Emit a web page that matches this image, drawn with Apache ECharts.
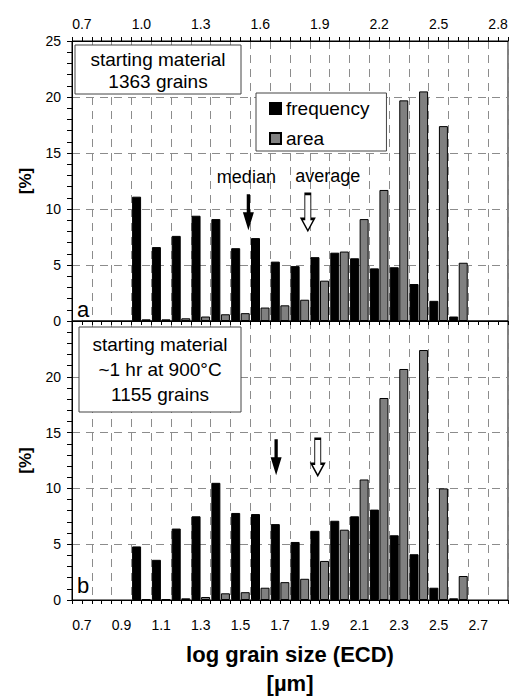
<!DOCTYPE html>
<html>
<head>
<meta charset="utf-8">
<script src="https://cdn.jsdelivr.net/npm/echarts@6/dist/echarts.min.js"></script>
<style>
  html, body { margin: 0; padding: 0; background: #fff; }
  #chart { width: 511px; height: 699px; }
</style>
</head>
<body>
<div id="chart"></div>
<script>
// Grain-size histograms (log ECD), two samples, frequency vs. area share per 0.1 bin
const binCenters = [1.0, 1.1, 1.2, 1.3, 1.4, 1.5, 1.6, 1.7, 1.8, 1.9, 2.0, 2.1, 2.2, 2.3, 2.4, 2.5, 2.6];

// panel a: starting material, 1363 grains
const freqStart = [11.1, 6.6, 7.6, 9.4, 9.1, 6.5, 7.4, 5.3, 4.9, 5.7, 6.1, 5.6, 4.7, 4.8, 3.3, 1.8, 0.4];
const areaStart = [0.15, 0.15, 0.24, 0.4, 0.6, 0.7, 1.2, 1.4, 1.9, 3.6, 6.2, 9.1, 11.7, 19.7, 20.5, 17.4, 5.2];

// panel b: after ~1 hr at 900°C, 1155 grains
const freqHeated = [4.8, 3.6, 6.4, 7.5, 10.5, 7.8, 7.7, 6.8, 5.2, 6.2, 7.1, 7.5, 8.1, 5.8, 4.1, 1.1, 0.15];
const areaHeated = [0.06, 0.06, 0.15, 0.27, 0.6, 0.7, 1.1, 1.6, 1.9, 3.5, 6.3, 10.8, 18.1, 20.7, 22.4, 10.0, 2.15];

// median / average of log grain size
const medianStart = 1.54;
const averageStart = 1.84;
const medianHeated = 1.68;
const averageHeated = 1.89;

// tick labels
const topTickLabels = ['0.7', '1.0', '1.3', '1.6', '1.9', '2.2', '2.5', '2.8'];
const bottomTickLabels = ['0.7', '0.9', '1.1', '1.3', '1.5', '1.7', '1.9', '2.1', '2.3', '2.5', '2.7'];
const yTickLabelsTop = ['0', '5', '10', '15', '20', '25'];
const yTickLabelsBottom = ['0', '5', '10', '15', '20'];

const FONT = '"Liberation Sans", Arial, Helvetica, sans-serif';
const X_MIN = 0.65, X_MAX = 2.85;

function pairs(xs, ys) { return xs.map((x, i) => [x, ys[i]]); }

function xLabelFormatter(list) {
  return function (v) {
    if (Math.abs(v * 10 - Math.round(v * 10)) > 1e-6) return '';
    const s = v.toFixed(1);
    return list.indexOf(s) >= 0 ? s : '';
  };
}
function yLabelFormatter(list) {
  return function (v) {
    const s = String(Math.round(v));
    return list.indexOf(s) >= 0 ? s : '';
  };
}

const dashed = { show: true, lineStyle: { color: '#8c8c8c', type: [8, 6], width: 1 } };

// axis carrying the bars, with gridlines at bin edges
function binAxis(gridIndex, position, withTicks) {
  return {
    type: 'value', gridIndex, position, min: X_MIN, max: X_MAX, interval: 0.1,
    axisLine: { show: withTicks, lineStyle: { color: '#000', width: 1 } },
    axisTick: { show: withTicks, length: 4, lineStyle: { color: '#000' } },
    minorTick: { show: withTicks, splitNumber: 2, length: 4, lineStyle: { color: '#000' } },
    axisLabel: { show: false },
    splitLine: dashed
  };
}
// labelled axis with ticks every 0.05
function labelAxis(gridIndex, position, list, margin, extra) {
  return Object.assign({
    type: 'value', gridIndex, position, min: X_MIN, max: X_MAX, interval: 0.05,
    axisLine: { show: true, lineStyle: { color: '#000', width: 1 } },
    axisTick: { show: true, length: 4, lineStyle: { color: '#000' } },
    axisLabel: { show: true, formatter: xLabelFormatter(list), color: '#000', fontSize: 14, fontFamily: FONT, margin },
    splitLine: { show: false }
  }, extra || {});
}
function yAxis(gridIndex, list) {
  return {
    type: 'value', gridIndex, min: 0, max: 25, interval: 5,
    axisLine: { show: true, lineStyle: { color: '#000' } },
    axisTick: { show: true, length: 5, lineStyle: { color: '#000' } },
    minorTick: { show: true, splitNumber: 5, length: 5, lineStyle: { color: '#000' } },
    axisLabel: { formatter: yLabelFormatter(list), color: '#000', fontSize: 14, fontFamily: FONT, margin: 11 },
    splitLine: dashed,
    name: '[%]', nameLocation: 'middle', nameGap: 38,
    nameTextStyle: { fontSize: 17, fontWeight: 'bold', color: '#000', fontFamily: FONT }
  };
}

const solidArrow = 'path://M4.5,0 L7.5,0 L7.5,18 L11,18 L6,36 L1,18 L4.5,18 Z';
const hollowArrow = 'path://M3,0 L9,0 L9,25 L12.5,25 L6,37 L-0.5,25 L3,25 Z';

function barSeries(name, xi, yi, ys, color) {
  return {
    type: 'bar', name, xAxisIndex: xi, yAxisIndex: yi,
    data: pairs(binCenters, ys), barWidth: 9, barGap: '6%',
    itemStyle: { color, borderColor: '#000', borderWidth: 1 },
    silent: true
  };
}
function arrowSeries(xi, yi, x, level, hollow, text, offset) {
  return {
    type: 'scatter', xAxisIndex: xi, yAxisIndex: yi, silent: true, z: 5,
    data: [[x, level]],
    symbol: hollow ? hollowArrow : solidArrow,
    symbolSize: hollow ? [13, 37] : [11, 36],
    itemStyle: hollow ? { color: '#fff', borderColor: '#000', borderWidth: 1.5, opacity: 1 }
                      : { color: '#000', opacity: 1 },
    label: text ? {
      show: true, formatter: text, position: 'top', distance: 8, offset: offset || [0, 0],
      color: '#000', fontSize: 18, fontFamily: FONT
    } : { show: false }
  };
}

const ARROW_LEVEL_A = 9.7;
const ARROW_LEVEL_B = 12.8;

const chart = echarts.init(document.getElementById('chart'), null, { renderer: 'svg' });
chart.setOption({
  animation: false,
  backgroundColor: '#fff',
  textStyle: { fontFamily: FONT },
  grid: [
    { left: 72, right: 2, top: 41, height: 280, show: true, borderColor: '#000', borderWidth: 1, backgroundColor: 'transparent' },
    { left: 72, right: 2, top: 321, height: 281, show: true, borderColor: '#000', borderWidth: 1, backgroundColor: 'transparent' }
  ],
  xAxis: [
    binAxis(0, 'bottom', true),
    labelAxis(0, 'top', topTickLabels, 10),
    binAxis(1, 'top', false),
    labelAxis(1, 'bottom', bottomTickLabels, 18, {
      name: 'log grain size (ECD)\n[µm]', nameLocation: 'middle', nameGap: 40,
      nameTextStyle: { fontSize: 22, fontWeight: 'bold', color: '#000', fontFamily: FONT, lineHeight: 29, verticalAlign: 'top' }
    })
  ],
  yAxis: [yAxis(0, yTickLabelsTop), yAxis(1, yTickLabelsBottom)],
  legend: {
    data: ['frequency', 'area'], orient: 'vertical', left: 256, top: 93,
    padding: [6, 17, 3, 13], itemWidth: 11, itemHeight: 11, itemGap: 11,
    borderColor: '#444', borderWidth: 1, backgroundColor: '#fff',
    textStyle: { fontSize: 19, color: '#000', fontFamily: FONT, lineHeight: 16 },
    icon: 'rect', selectedMode: false
  },
  series: [
    barSeries('frequency', 0, 0, freqStart, '#000'),
    barSeries('area', 0, 0, areaStart, '#808080'),
    barSeries('frequency', 2, 1, freqHeated, '#000'),
    barSeries('area', 2, 1, areaHeated, '#808080'),
    arrowSeries(0, 0, medianStart, ARROW_LEVEL_A, false, 'median', [-2, 0]),
    arrowSeries(0, 0, averageStart, ARROW_LEVEL_A, true, 'average', [20, 0]),
    arrowSeries(2, 1, medianHeated, ARROW_LEVEL_B, false),
    arrowSeries(2, 1, averageHeated, ARROW_LEVEL_B, true)
  ],
  graphic: [
    { type: 'rect', shape: { x: 75, y: 45, width: 166, height: 49 },
      style: { fill: '#fff', stroke: '#444', lineWidth: 1 }, z: 10 },
    { type: 'text', x: 158, y: 70, z: 11,
      style: { text: 'starting material\n1363 grains', align: 'center', verticalAlign: 'middle',
               fontSize: 19, lineHeight: 22, fontFamily: FONT, fill: '#000' } },
    { type: 'rect', shape: { x: 79, y: 327, width: 162, height: 85 },
      style: { fill: '#fff', stroke: '#444', lineWidth: 1 }, z: 10 },
    { type: 'text', x: 160, y: 369, z: 11,
      style: { text: 'starting material\n~1 hr at 900°C\n1155 grains', align: 'center', verticalAlign: 'middle',
               fontSize: 19, lineHeight: 25, fontFamily: FONT, fill: '#000' } },
    { type: 'text', x: 77, y: 309, z: 11,
      style: { text: 'a', align: 'left', verticalAlign: 'middle', fontSize: 22, fontFamily: FONT, fill: '#000' } },
    { type: 'text', x: 77, y: 585, z: 11,
      style: { text: 'b', align: 'left', verticalAlign: 'middle', fontSize: 22, fontFamily: FONT, fill: '#000' } }
  ]
});
</script>
</body>
</html>
